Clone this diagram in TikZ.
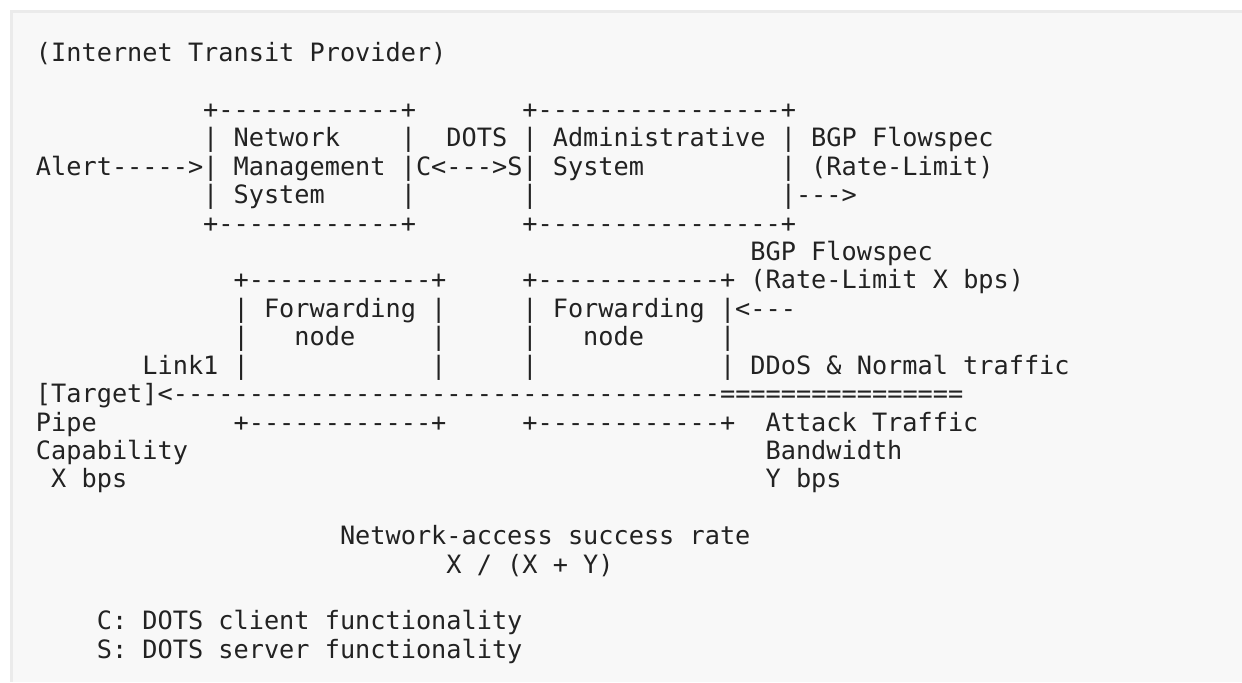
\documentclass[tikz,border=0pt]{standalone}
\usepackage{fontspec}
\setmonofont{DejaVu Sans Mono}
\usepackage{tikz}
\usepackage{xcolor}
\usetikzlibrary{positioning}

\definecolor{pagebg}{HTML}{F8F8F8}
\definecolor{pageedge}{HTML}{EBEBEB}
\definecolor{asciitext}{HTML}{222222}

\tikzset{
  ascii/.style={anchor=base west, inner sep=0pt, outer sep=0pt, text=asciitext,
    font=\ttfamily\fontsize{14.37}{17}\selectfont}
}

\begin{document}
\begin{tikzpicture}[x=0.304cm, y=-0.5682cm]
% page and code block background
\useasboundingbox (-0.72cm,1.234cm) rectangle (24.12cm,-12.406cm);
\fill[pagebg] (-0.52cm,1.034cm) rectangle (24.12cm,-12.406cm);
\draw[pageedge, line width=1.5pt] (24.12cm,1.008cm) -- (-0.494cm,1.008cm) -- (-0.494cm,-12.406cm);

% title
\node[ascii] (provider) at (0,0) {(Internet Transit Provider)};

% network management system and administrative system
\node[ascii] (nmsTop) at (11,2) {+------------+};
\node[ascii] (admTop) at (32,2) {+----------------+};
\node[ascii] (nmsA) at (11,3) {| Network};
\node[ascii] (nmsB) at (24,3) {|};
\node[ascii] (dots) at (27,3) {DOTS | Administrative | BGP Flowspec};
\node[ascii] (alert) at (0,4) {Alert----->| Management |C<--->S| System};
\node[ascii] (rateA) at (49,4) {| (Rate-Limit)};
\node[ascii] (nmsC) at (11,5) {| System};
\node[ascii] (nmsD) at (24,5) {|};
\node[ascii] (admA) at (32,5) {|};
\node[ascii] (admOut) at (49,5) {|--->};
\node[ascii] (nmsBot) at (11,6) {+------------+};
\node[ascii] (admBot) at (32,6) {+----------------+};

% forwarding nodes
\node[ascii] (bgpB) at (47,7) {BGP Flowspec};
\node[ascii] (fwdATop) at (13,8) {+------------+};
\node[ascii] (fwdBTop) at (32,8) {+------------+ (Rate-Limit X bps)};
\node[ascii] (fwdA1) at (13,9) {| Forwarding |};
\node[ascii] (fwdB1) at (32,9) {| Forwarding |<---};
\node[ascii] (fwdA2) at (13,10) {|};
\node[ascii] (fwdA3) at (17,10) {node};
\node[ascii] (fwdA4) at (26,10) {|};
\node[ascii] (fwdB2) at (32,10) {|};
\node[ascii] (fwdB3) at (36,10) {node};
\node[ascii] (fwdB4) at (45,10) {|};
\node[ascii] (link) at (7,11) {Link1 |};
\node[ascii] (fwdA5) at (26,11) {|};
\node[ascii] (fwdB5) at (32,11) {|};
\node[ascii] (traffic) at (45,11) {| DDoS \& Normal traffic};

% link to the target
\node[ascii] (target) at (0,12) {[Target]<------------------------------------================};
\node[ascii] (pipe) at (0,13) {Pipe};
\node[ascii] (fwdABot) at (13,13) {+------------+};
\node[ascii] (fwdBBot) at (32,13) {+------------+};
\node[ascii] (attack) at (48,13) {Attack Traffic};
\node[ascii] (capab) at (0,14) {Capability};
\node[ascii] (bandw) at (48,14) {Bandwidth};
\node[ascii] (xbps) at (1,15) {X bps};
\node[ascii] (ybps) at (48,15) {Y bps};

% success rate and legend
\node[ascii] (rate) at (20,17) {Network-access success rate};
\node[ascii] (ratio) at (27,18) {X / (X + Y)};
\node[ascii] (legC) at (4,20) {C: DOTS client functionality};
\node[ascii] (legS) at (4,21) {S: DOTS server functionality};
\end{tikzpicture}
\end{document}
